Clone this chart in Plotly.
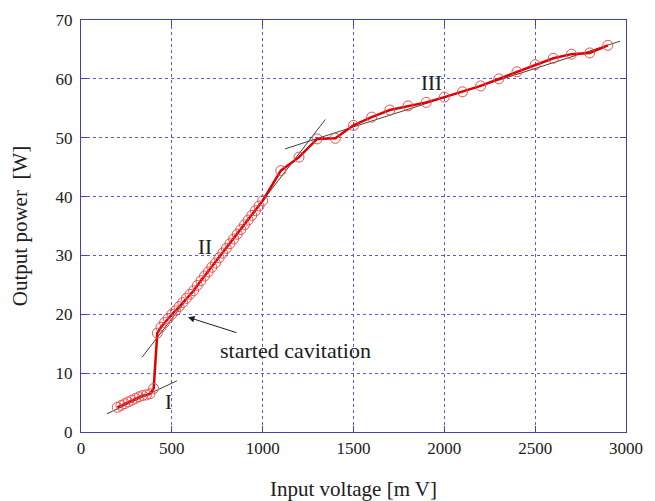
import plotly.graph_objects as go

# Measured data: input voltage [mV] vs output power [W]
volt = [200, 220, 240, 260, 280, 300, 320, 340, 360, 380, 400,
        420, 440, 460, 480, 500, 520, 540, 560, 580, 600, 620, 640, 660, 680,
        700, 720, 740, 760, 780, 800, 820, 840, 860, 880, 900, 920, 940, 960,
        980, 1000,
        1100, 1200, 1300, 1400, 1500, 1600, 1700, 1800, 1900, 2000, 2100,
        2200, 2300, 2400, 2500, 2600, 2700, 2800, 2900]
power = [4.2, 4.5, 4.8, 5.1, 5.4, 5.7, 6.0, 6.2, 6.3, 6.5, 7.4,
         16.8, 17.8, 18.6, 19.3, 20.0, 20.6, 21.3, 22.0, 22.7, 23.4, 24.0,
         24.9, 25.7, 26.5, 27.2, 28.0, 28.7, 29.6, 30.4, 31.2, 32.0, 32.8,
         33.6, 34.4, 35.2, 36.0, 36.8, 37.6, 38.4, 39.3,
         44.4, 46.7, 49.8, 49.9, 52.1, 53.5, 54.7, 55.4, 56.0, 56.9, 57.8,
         58.8, 60.0, 61.2, 62.4, 63.5, 64.2, 64.4, 65.7]

# Fitted lines for regions I, II, III (end points)
fit_I_x = [143, 528]
fit_I_y = [3.1, 8.7]
fit_II_x = [336, 1345]
fit_II_y = [12.7, 53.1]
fit_III_x = [1123, 2967]
fit_III_y = [48.1, 66.4]

region_labels = ["I", "II", "III"]
region_x = [479, 683, 1932]
region_y = [5.1, 31.4, 59.3]

x_ticks = [0, 500, 1000, 1500, 2000, 2500, 3000]
y_ticks = [0, 10, 20, 30, 40, 50, 60, 70]

FONT = "Liberation Serif"
fig = go.Figure()

for fx, fy in [(fit_I_x, fit_I_y), (fit_II_x, fit_II_y), (fit_III_x, fit_III_y)]:
    fig.add_trace(go.Scatter(x=fx, y=fy, mode="lines",
                             line=dict(color="#404040", width=1),
                             showlegend=False, hoverinfo="skip"))

fig.add_trace(go.Scatter(x=volt, y=power, mode="lines+markers",
                         line=dict(color="#e00000", width=2.5),
                         marker=dict(symbol="circle-open", size=10,
                                     color="#e85050", line=dict(width=1)),
                         showlegend=False))

for t, x, y in zip(region_labels, region_x, region_y):
    fig.add_annotation(x=x, y=y, text=t, showarrow=False,
                       font=dict(family=FONT, size=21, color="#202020"))

fig.add_annotation(x=589, y=19.5, ax=864, ay=16.8, axref="x", ayref="y",
                   text="", showarrow=True, arrowhead=2, arrowsize=1.3,
                   arrowwidth=1, arrowcolor="#202020")
fig.add_annotation(x=1183, y=13.9, text="started cavitation", showarrow=False,
                   font=dict(family=FONT, size=22, color="#202020"))

axis_common = dict(showline=True, linecolor="#4040c0", linewidth=1.2,
                   mirror="ticks", ticks="inside", ticklen=6,
                   tickcolor="#4040c0", showgrid=True, gridcolor="#5a5ad8",
                   griddash="dot", gridwidth=1, zeroline=False,
                   automargin=False,
                   tickfont=dict(family=FONT, size=17, color="#202020"))

fig.update_xaxes(range=[0, 3000], tickvals=x_ticks,
                 title=dict(text="Input voltage [m V]",
                            font=dict(family=FONT, size=21, color="#202020"),
                            standoff=24),
                 **axis_common)
fig.update_yaxes(range=[0, 70], tickvals=y_ticks, ticklabelstandoff=4,
                 title=dict(text="Output power  [W]",
                            font=dict(family=FONT, size=21, color="#202020"),
                            standoff=22),
                 **axis_common)

# page body has an 8px margin; compensate so the plot area lands where it should
fig.update_layout(width=647, height=493,
                  margin=dict(l=73, r=29, t=12, b=69),
                  plot_bgcolor="white", paper_bgcolor="white")

fig.write_html("out.html")
